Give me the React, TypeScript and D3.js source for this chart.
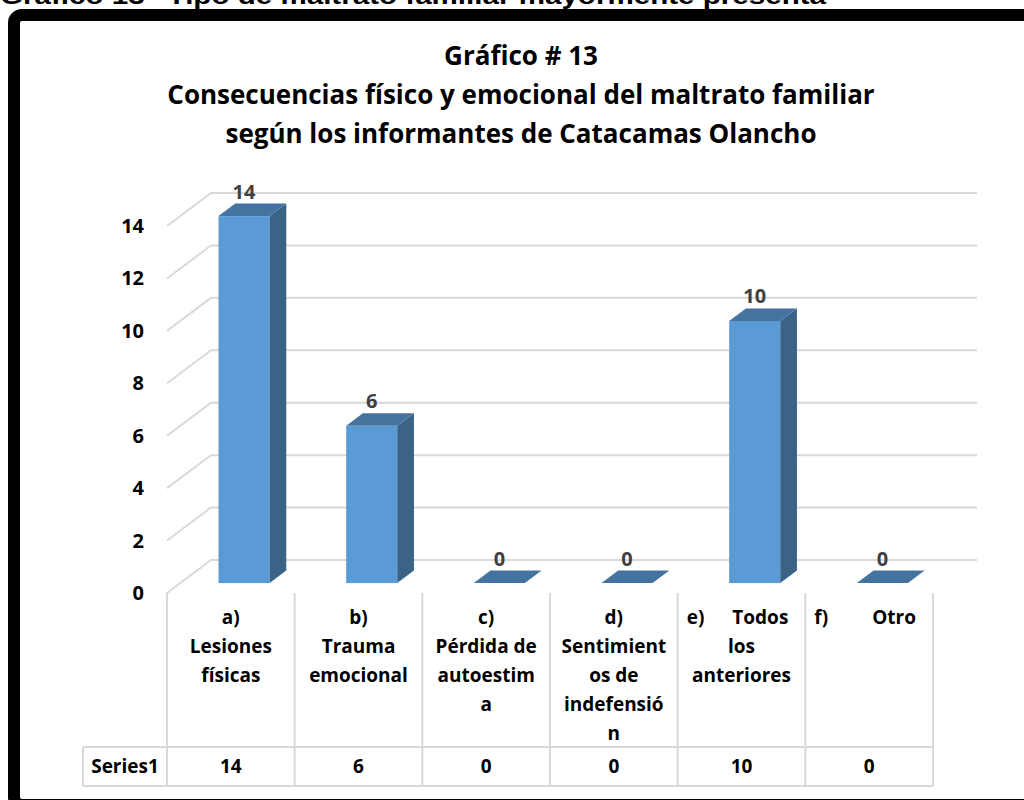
import * as d3 from "d3";

// chart data
const categories = ["a", "b", "c", "d", "e", "f"];
const values = [14, 6, 0, 0, 10, 0];
const yTicks = [0, 2, 4, 6, 8, 10, 12, 14];
// "|" marks a justified line: left part | right part
const categoryLines = [
  ["a)", "Lesiones", "físicas"],
  ["b)", "Trauma", "emocional"],
  ["c)", "Pérdida de", "autoestim", "a"],
  ["d)", "Sentimient", "os de", "indefensió", "n"],
  ["e)|Todos", "los", "anteriores"],
  ["f)|Otro"],
];
const seriesName = "Series1";
const pageTitle = "Gráfico 13 \u201CTipo de maltrato familiar mayormente presenta";
const chartTitle = [
  "Gráfico # 13",
  "Consecuencias físico y emocional del maltrato familiar",
  "según los informantes de Catacamas Olancho",
];

const W = 1024;
const H = 800;
const FONT = "'Open Sans', 'Noto Sans', sans-serif";
const GRID = "#d9d9d9";

export default function App() {
  const x = d3.scaleBand<string>().domain(categories).range([167, 933]);
  const y = d3.scaleLinear().domain([0, 14]).range([593, 226]);

  // depth of the 3D box, and the slice the bars occupy
  const DX = 44;
  const DY = -33;
  const f0 = 0.3;
  const f1 = 0.68;
  const barW = x.bandwidth() * 0.4;
  const ddx = (f1 - f0) * DX;
  const ddy = (f1 - f0) * DY;

  const left = x.range()[0];
  const right = x.range()[1];
  const tableTop = y(0);
  const rowTop = 747;
  const rowBottom = 786;
  const headLeft = 83;

  return (
    <div style={{ position: "absolute", left: 0, top: 0, width: W, height: H }}>
      <svg width={W} height={H} viewBox={`0 0 ${W} ${H}`}>
        <rect x={0} y={0} width={W} height={H} fill="#fff" />
        <text
          x={0}
          y={4}
          fontFamily="'Liberation Sans', Arial, sans-serif"
          fontWeight="bold"
          fontSize={24}
          textLength={826}
          lengthAdjust="spacingAndGlyphs"
          fill="#000"
        >
          {pageTitle}
        </text>
        <rect x={14} y={15} width={1040} height={790} rx={8} fill="#fff" stroke="#000" strokeWidth={12} />

        {/* chart title */}
        {chartTitle.map((t, i) => (
          <text
            key={i}
            x={521}
            y={65 + i * 39}
            textAnchor="middle"
            fontFamily={FONT}
            fontWeight="bold"
            fontSize={26}
            fill="#000"
          >
            {t}
          </text>
        ))}

        {/* side wall + back wall gridlines */}
        {yTicks.map((t) => (
          <path
            key={t}
            d={`M${left},${y(t)} L${left + DX},${y(t) + DY} L${right + DX},${y(t) + DY}`}
            fill="none"
            stroke={GRID}
            strokeWidth={2}
          />
        ))}

        {/* y tick labels */}
        {yTicks.map((t) => (
          <text
            key={t}
            x={144}
            y={y(t) + 7}
            textAnchor="end"
            fontFamily={FONT}
            fontWeight="bold"
            fontSize={20}
            fill="#000"
          >
            {t}
          </text>
        ))}

        {/* 3D bars */}
        {categories.map((c, i) => {
          const v = values[i];
          const bx = (x(c) ?? 0) + (x.bandwidth() - barW) / 2 + f0 * DX;
          const yb = y(0) + f0 * DY;
          const yt = y(v) + f0 * DY;
          return (
            <g key={c}>
              {v > 0 && (
                <>
                  <rect x={bx} y={yt} width={barW} height={yb - yt} fill="#5b9bd5" />
                  <path
                    d={`M${bx + barW},${yt} L${bx + barW + ddx},${yt + ddy} L${bx + barW + ddx},${yb + ddy} L${bx + barW},${yb} Z`}
                    fill="#3a6386"
                  />
                </>
              )}
              <path
                d={`M${bx},${yt} L${bx + barW},${yt} L${bx + barW + ddx},${yt + ddy} L${bx + ddx},${yt + ddy} Z`}
                fill="#4573a0"
              />
              <text
                x={bx + barW / 2}
                y={yt + ddy - 5}
                textAnchor="middle"
                fontFamily={FONT}
                fontWeight="bold"
                fontSize={20}
                fill="#404040"
              >
                {v}
              </text>
            </g>
          );
        })}

        {/* data table */}
        {[...categories.map((c) => x(c) ?? 0), right].map((bx, i) => (
          <line key={i} x1={bx} x2={bx} y1={tableTop} y2={rowBottom} stroke={GRID} strokeWidth={2} />
        ))}
        <line x1={headLeft} x2={headLeft} y1={rowTop} y2={rowBottom} stroke={GRID} strokeWidth={2} />
        <line x1={headLeft} x2={right} y1={rowTop} y2={rowTop} stroke={GRID} strokeWidth={2} />
        <line x1={headLeft} x2={right} y1={rowBottom} y2={rowBottom} stroke={GRID} strokeWidth={2} />

        {categoryLines.map((lines, i) => {
          const cx = (x(categories[i]) ?? 0) + x.bandwidth() / 2;
          const cl = x(categories[i]) ?? 0;
          return lines.map((ln, j) => {
            const yy = 624 + j * 29;
            if (ln.includes("|")) {
              const [a, b] = ln.split("|");
              return (
                <g key={`${i}-${j}`} fontFamily={FONT} fontWeight="bold" fontSize={19} fill="#000">
                  <text x={cl + 9} y={yy}>{a}</text>
                  <text x={cl + x.bandwidth() - 17} y={yy} textAnchor="end">{b}</text>
                </g>
              );
            }
            return (
              <text
                key={`${i}-${j}`}
                x={cx}
                y={yy}
                textAnchor="middle"
                fontFamily={FONT}
                fontWeight="bold"
                fontSize={19}
                fill="#000"
              >
                {ln}
              </text>
            );
          });
        })}

        <text x={(headLeft + left) / 2} y={773} textAnchor="middle" fontFamily={FONT} fontWeight="bold" fontSize={19} fill="#000">
          {seriesName}
        </text>
        {categories.map((c, i) => (
          <text
            key={c}
            x={(x(c) ?? 0) + x.bandwidth() / 2}
            y={773}
            textAnchor="middle"
            fontFamily={FONT}
            fontWeight="bold"
            fontSize={19}
            fill="#000"
          >
            {values[i]}
          </text>
        ))}
      </svg>
    </div>
  );
}
